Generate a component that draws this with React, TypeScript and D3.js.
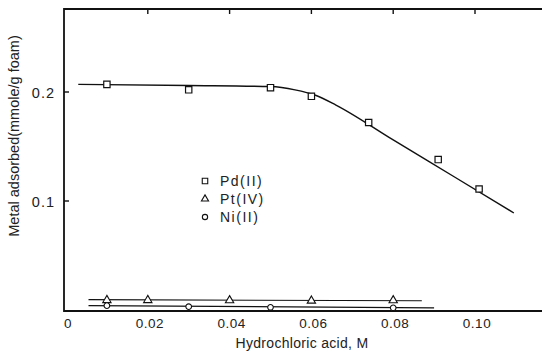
import React, { useEffect, useRef } from 'react'
import * as d3 from 'd3'

// values
const pdX = [0.01, 0.03, 0.05, 0.06, 0.074, 0.091, 0.101]
const pdY = [0.207, 0.202, 0.204, 0.196, 0.172, 0.138, 0.111]
const pdLineX = [0.003, 0.03, 0.05, 0.056, 0.061, 0.066, 0.08, 0.095, 0.1095]
const pdLineY = [0.207, 0.206, 0.205, 0.202, 0.197, 0.188, 0.156, 0.122, 0.089]

const ptX = [0.01, 0.02, 0.04, 0.06, 0.08]
const ptY = [0.009, 0.009, 0.0088, 0.0085, 0.0088]
const ptLineX = [0.0055, 0.087]
const ptLineY = [0.0095, 0.0085]

const niX = [0.01, 0.03, 0.05, 0.08]
const niY = [0.004, 0.003, 0.0025, 0.002]
const niLineX = [0.0055, 0.09]
const niLineY = [0.004, 0.002]

const xTicks = [0, 0.02, 0.04, 0.06, 0.08, 0.1]
const xTickLabels = ['0', '0.02', '0.04', '0.06', '0.08', '0.10']
const yTicks = [0.1, 0.2]
const legendNames = ['Pd(II)', 'Pt(IV)', 'Ni(II)']

const W = 542
const H = 355
const ink = '#111'
const font = "'Liberation Sans', Arial, sans-serif"

function App() {
  const ref = useRef<SVGSVGElement>(null)

  useEffect(() => {
    const svg = d3.select(ref.current)
    svg.selectAll('*').remove()

    const x = d3.scaleLinear().domain([0, 0.1]).range([66, 475])
    const y = d3.scaleLinear().domain([0, 0.2]).range([310, 92])
    const left = 64, right = 542, top = 9, bottom = 311

    const g = svg.append('g')

    // frame: left, top, bottom (no right side)
    g.append('path')
      .attr('d', `M${right},${top}H${left}V${bottom}H${right}`)
      .attr('fill', 'none').attr('stroke', ink).attr('stroke-width', 1.8)

    // top ticks
    g.selectAll('.tt').data(xTicks.slice(1)).enter().append('line')
      .attr('x1', d => x(d)).attr('x2', d => x(d))
      .attr('y1', top).attr('y2', top + 5)
      .attr('stroke', ink).attr('stroke-width', 1.4)

    // left ticks
    g.selectAll('.yt').data(yTicks).enter().append('line')
      .attr('x1', left).attr('x2', left + 5)
      .attr('y1', d => y(d)).attr('y2', d => y(d))
      .attr('stroke', ink).attr('stroke-width', 1.4)

    g.selectAll('.xl').data(xTicks).enter().append('text')
      .attr('x', d => x(d) + 2).attr('y', 328)
      .attr('text-anchor', 'middle')
      .attr('font-family', font).attr('font-size', 13.5).attr('fill', '#222')
      .attr('letter-spacing', 0.5)
      .text((d, i) => xTickLabels[i])

    g.selectAll('.yl').data(yTicks).enter().append('text')
      .attr('x', 55).attr('y', d => y(d) + 6)
      .attr('text-anchor', 'end')
      .attr('font-family', font).attr('font-size', 14.5).attr('fill', '#222')
      .attr('letter-spacing', 1)
      .text(d => d3.format('.1f')(d))

    g.append('text')
      .attr('x', 302).attr('y', 348)
      .attr('text-anchor', 'middle')
      .attr('font-family', font).attr('font-size', 14).attr('fill', '#222')
      .attr('letter-spacing', 0.3)
      .text('Hydrochloric  acid, M')

    g.append('text')
      .attr('transform', 'translate(19,136) rotate(-90)')
      .attr('text-anchor', 'middle')
      .attr('font-family', font).attr('font-size', 14.5).attr('fill', '#222')
      .text('Metal adsorbed(mmole/g foam)')

    const line = d3.line<[number, number]>()
      .x(d => x(d[0])).y(d => y(d[1]))

    const pdLine = pdLineX.map((v, i) => [v, pdLineY[i]] as [number, number])
    g.append('path')
      .attr('d', line.curve(d3.curveMonotoneX)(pdLine))
      .attr('fill', 'none').attr('stroke', ink).attr('stroke-width', 1.4)

    const ptLine = ptLineX.map((v, i) => [v, ptLineY[i]] as [number, number])
    g.append('path')
      .attr('d', line.curve(d3.curveLinear)(ptLine))
      .attr('fill', 'none').attr('stroke', ink).attr('stroke-width', 1.1)

    const niLine = niLineX.map((v, i) => [v, niLineY[i]] as [number, number])
    g.append('path')
      .attr('d', line.curve(d3.curveLinear)(niLine))
      .attr('fill', 'none').attr('stroke', ink).attr('stroke-width', 1.3)

    const square = d3.symbol().type(d3.symbolSquare).size(40)
    const tri = d3.symbol().type(d3.symbolTriangle).size(30)
    const circ = d3.symbol().type(d3.symbolCircle).size(25)

    g.selectAll('.pd').data(pdX).enter().append('path')
      .attr('d', square())
      .attr('transform', (d, i) => `translate(${x(d)},${y(pdY[i])})`)
      .attr('fill', 'white').attr('stroke', ink).attr('stroke-width', 1.2)

    g.selectAll('.pt').data(ptX).enter().append('path')
      .attr('d', tri())
      .attr('transform', (d, i) => `translate(${x(d)},${y(ptY[i])})`)
      .attr('fill', 'white').attr('stroke', ink).attr('stroke-width', 1.1)

    g.selectAll('.ni').data(niX).enter().append('path')
      .attr('d', circ())
      .attr('transform', (d, i) => `translate(${x(d)},${y(niY[i])})`)
      .attr('fill', 'white').attr('stroke', ink).attr('stroke-width', 1.1)

    // legend
    const syms = [square, tri, circ]
    const lg = g.append('g').attr('transform', 'translate(205,181)')
    legendNames.forEach((name, i) => {
      lg.append('path')
        .attr('d', syms[i].size(i === 0 ? 30 : 22)())
        .attr('transform', `translate(0,${i * 18})`)
        .attr('fill', 'white').attr('stroke', ink).attr('stroke-width', 1.1)
      lg.append('text')
        .attr('x', 15).attr('y', i * 18 + 5)
        .attr('font-family', font).attr('font-size', 14).attr('fill', '#222')
        .attr('letter-spacing', 1.5)
        .text(name)
    })
  }, [])

  return (
    <svg
      ref={ref}
      width={W}
      height={H}
      style={{ position: 'absolute', left: 0, top: 0, background: 'white' }}
    />
  )
}

export default App
